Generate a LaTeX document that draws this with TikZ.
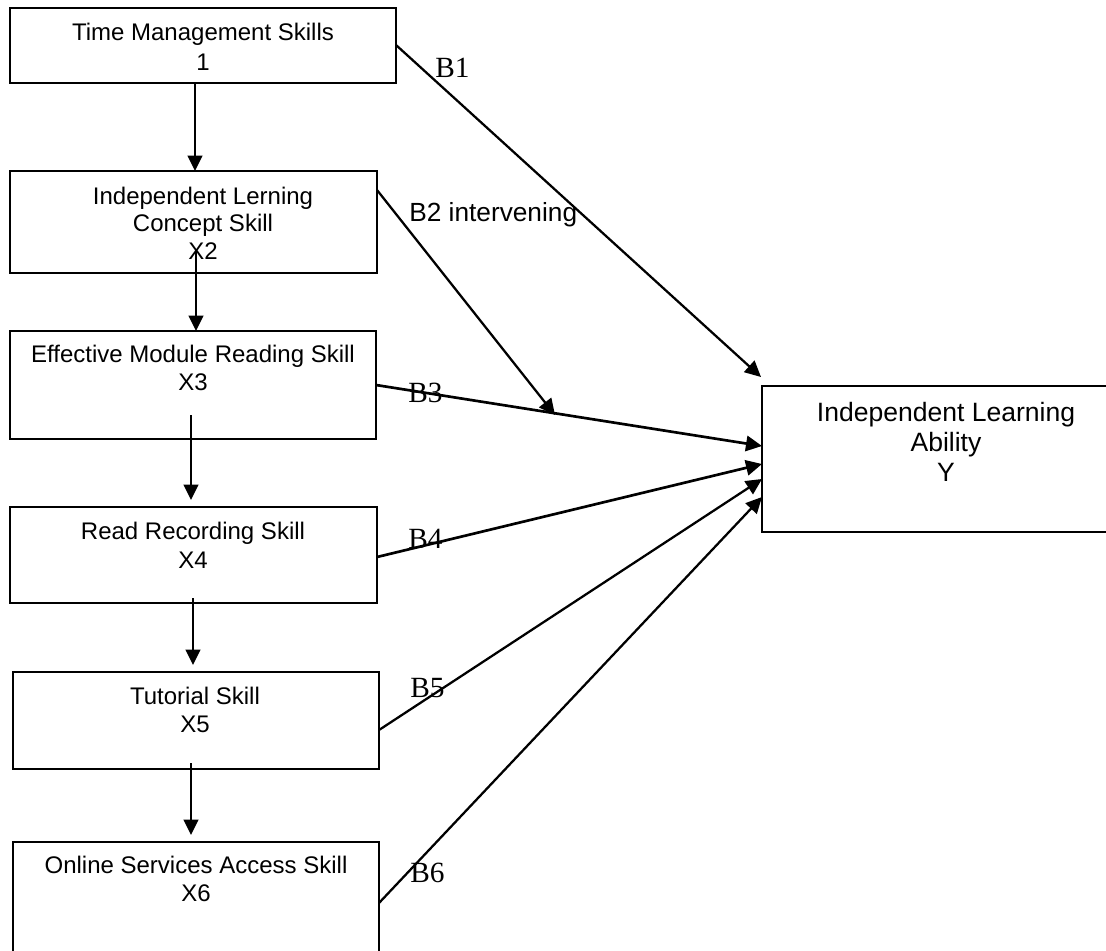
\documentclass[tikz,border=0pt]{standalone}
\usepackage{fontspec}
\setmainfont{Liberation Sans}
\newfontfamily\blabelfont{Liberation Serif}
\usetikzlibrary{arrows.meta,fit,calc}
\begin{document}
\begin{tikzpicture}[x=0.75pt,y=-0.75pt,
  box/.style={draw, line width=1.4pt, inner sep=0pt},
  ybox/.style={draw, line width=1.1pt, inner sep=0pt},
  txt/.style={align=center, inner sep=0pt, font=\fontsize{18}{21.5}\selectfont},
  ytxt/.style={align=center, inner sep=0pt, font=\fontsize{19.9}{22.5}\selectfont},
  blab/.style={inner sep=0pt, anchor=base west, font=\blabelfont\fontsize{22}{24}\selectfont},
  slab/.style={inner sep=0pt, anchor=base west, font=\fontsize{19.7}{22}\selectfont},
  arr/.style={line width=1.6pt, -{Triangle[length=11.5pt,width=11pt]}},
  darr/.style={line width=1.7pt, -{Triangle[length=12pt,width=11.5pt]}},
]
\useasboundingbox (0,0) rectangle (1106,950);

% boxes
\node[box, fit={(10,8) (396,83)}] (b1) {};
\node[box, fit={(10,171) (377,273)}] (b2) {};
\node[box, fit={(10,331) (376,439)}] (b3) {};
\node[box, fit={(10,507) (377,603)}] (b4) {};
\node[box, fit={(13,672) (379,769)}] (b5) {};
\node[box, fit={(13,842) (379,990)}] (b6) {};
\node[ybox, fit={(762,386) (1125,532)}] (by) {};

% box texts
\node[txt, font=\fontsize{18}{22.5}\selectfont] (t1) at (203,47) {Time Management Skills\\1};
\node[txt, font=\fontsize{18}{20.6}\selectfont] (t2) at (203,223) {Independent Lerning\\Concept Skill\\X2};
\node[txt] (t3) at (193,368) {Effective Module Reading Skill\\X3};
\node[txt] (t4) at (193,545) {Read Recording Skill\\X4};
\node[txt] (t5) at (195,710) {Tutorial Skill\\X5};
\node[txt] (t6) at (196,879) {Online Services Access Skill\\X6};
\node[ytxt] (ty) at (946,442) {Independent Learning\\Ability\\Y};

% path labels
\node[blab] (l1) at (435,77) {B1};
\node[slab] (l2) at (409,221) {B2 intervening};
\node[blab] (l3) at (408,402) {B3};
\node[blab] (l4) at (408,548) {B4};
\node[blab] (l5) at (410,697) {B5};
\node[blab] (l6) at (410,882) {B6};

% connector end points
\coordinate (s12) at (195,83);   \coordinate (e12) at (195,171);
\coordinate (s23) at (196,251);  \coordinate (e23) at (196,331);
\coordinate (s34) at (191,415);  \coordinate (e34) at (191,500);
\coordinate (s45) at (193,598);  \coordinate (e45) at (193,665);
\coordinate (s56) at (191,763);  \coordinate (e56) at (191,835);
\coordinate (sB1) at (396,45);   \coordinate (eB1) at (761,377);
\coordinate (sB2) at (377,190);  \coordinate (eB2) at (555,415);
\coordinate (sB3) at (376,385);  \coordinate (eB3) at (762,446);
\coordinate (sB4) at (377,557);  \coordinate (eB4) at (762,464);
\coordinate (sB5) at (379,730);  \coordinate (eB5) at (762,479);
\coordinate (sB6) at (379,903);  \coordinate (eB6) at (762,497);

% vertical connectors
\draw[arr] (s12) -- (e12);
\draw[arr] (s23) -- (e23);
\draw[arr] (s34) -- (e34);
\draw[arr] (s45) -- (e45);
\draw[arr] (s56) -- (e56);

% paths to Y
\draw[darr] (sB1) -- (eB1);
\draw[darr] (sB2) -- (eB2);
\draw[darr, line width=2pt] (sB3) -- (eB3);
\draw[darr, line width=2pt] (sB4) -- (eB4);
\draw[darr] (sB5) -- (eB5);
\draw[darr] (sB6) -- (eB6);
\end{tikzpicture}
\end{document}
